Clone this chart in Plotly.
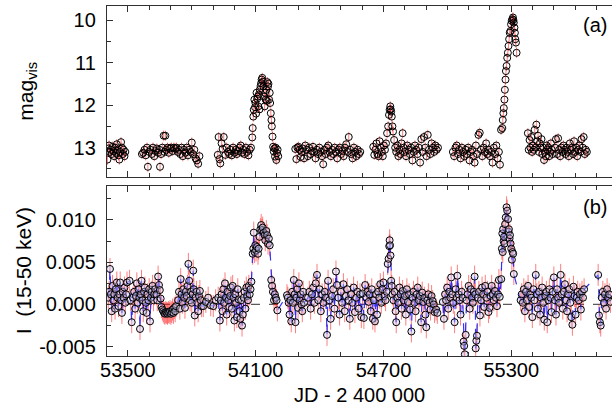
import plotly.graph_objects as go

# ---------------- panel (a): visual magnitudes (JD - 2400000, mag) ----------------
A1_JD = [53404,53408,53412,53416,53420,53424,53428,53432,53436,53440,53444,53448,53452,53456,53460,53464,53468,53472,53476,53480,53484,53488]
A1_MAG = [13.28,13.02,12.95,13.10,13.05,13.15,12.98,13.08,13.20,13.0,13.12,12.92,13.05,13.18,13.28,13.1,12.87,13.0,13.15,13.05,13.2,13.1]

A2_JD = [53566,53572,53578,53584,53590,53594,53600,53606,53612,53618,53624,53630,53636,53642,53648,53651,53656,53662,53668,53672,53676,53680,53686,53692,53698,53704,53710,53716,53722,53728,53734,53740,53746,53752,53758,53764,53770,53776,53782,53788,53794,53800,53806,53812,53818,53824,53830,53836]
A2_MAG = [13.15,13.12,13.05,13.18,13.0,13.45,13.1,13.05,13.15,13.0,13.2,13.08,13.02,13.12,13.05,13.45,13.15,13.0,12.72,13.1,12.72,13.05,13.0,13.12,13.02,13.0,13.08,13.0,13.02,13.0,13.1,13.05,13.15,13.0,13.2,13.05,13.12,13.0,13.18,13.05,13.1,12.88,13.15,13.05,13.25,13.3,13.38,13.2]

A3_JD = [53922,53926,53930,53934,53940,53945,53950,53958,53964,53970,53976,53982,53988,53994,54000,54006,54012,54018,54024,54030,54036,54042,54048,54054,54060,54066,54072,54078]
A3_MAG = [13.17,12.75,13.27,13.37,12.9,13.03,12.75,13.17,13.0,13.1,13.15,13.05,13.18,13.0,13.12,13.05,13.15,13.08,13.0,12.95,13.12,13.05,13.15,13.0,13.1,13.18,13.05,13.0]

A4_JD = [54084,54086,54089,54091,54094,54097,54099,54102,54104,54107,54110,54112,54115,54118,54120,54123,54126,54128,54131,54134,54136,54139,54142,54144,54147,54150,54152,54155,54158,54160,54163,54166,54168,54171,54174,54176,54179,54182,54185,54188,54191,54194,54197,54200,54203,54206]
A4_MAG = [12.76,12.54,12.27,12.11,11.87,12.05,11.95,12.2,11.71,11.85,11.8,12.03,11.75,12.1,11.64,11.55,11.48,11.4,11.36,11.45,11.56,11.8,12.03,11.71,11.87,11.64,11.9,11.46,11.56,11.5,11.87,11.71,11.95,12.19,12.35,12.5,12.74,12.98,13.09,13.02,13.21,13.0,13.29,13.13,13.05,13.2]

A5_JD = [54286,54291,54296,54301,54306,54311,54316,54321,54327,54333,54339,54345,54351,54357,54363,54369,54375,54381,54387,54393,54399,54405,54411,54417,54423,54429,54435,54441,54447,54453,54459,54465,54471,54477,54483,54489,54495,54501,54507,54513,54519,54525,54531,54537,54543,54549,54555,54561,54567,54573,54579,54585,54591]
A5_MAG = [13.03,13.27,13.0,12.98,13.05,13.22,13.1,13.02,13.25,12.95,13.05,13.2,13.0,13.15,13.08,12.98,13.1,13.25,13.05,13.15,13.0,13.1,13.2,13.39,13.05,13.15,13.0,12.95,13.1,13.2,13.05,13.15,13.0,13.1,13.25,13.05,13.0,13.15,13.08,13.2,13.0,12.92,13.1,12.75,13.05,13.15,13.25,13.0,13.1,13.2,13.05,13.15,13.1]

A6_JD = [54652,54657,54662,54667,54672,54677,54682,54687,54692,54697,54702,54707,54712,54717,54722,54726,54729,54732,54734,54736,54739,54742,54745,54750,54755,54760,54765,54770,54775,54780,54785,54790,54795,54800,54806,54812,54818,54824,54830,54836,54842,54848,54854,54860,54866,54872,54878,54884,54890,54896,54902,54908,54914,54920,54926,54932,54938,54944,54950,54956]
A6_MAG = [12.98,13.17,13.05,12.9,13.15,13.2,12.85,13.0,13.1,13.2,12.95,13.05,12.9,12.66,12.5,12.23,12.11,12.03,12.1,12.15,12.27,12.5,12.62,12.82,13.0,13.1,12.95,13.2,13.05,13.15,12.9,12.66,13.0,13.1,13.2,12.95,13.05,13.15,13.0,13.3,13.1,12.95,13.05,13.15,13.0,13.35,12.8,13.1,12.75,13.0,13.2,12.7,13.05,13.15,12.9,13.0,13.1,12.95,13.05,13.0]

A7_JD = [55026,55032,55038,55044,55050,55056,55062,55068,55074,55080,55086,55092,55098,55104,55110,55116,55122,55128,55134,55140,55146,55152,55158,55164,55170,55176,55182,55188,55194,55200,55206,55212,55218,55224,55230,55236,55242,55247]
A7_MAG = [13.1,13.2,13.0,12.95,13.15,13.05,13.25,13.0,13.1,13.2,13.05,13.15,13.0,13.3,13.1,13.05,13.2,13.35,12.95,13.15,12.7,12.65,13.05,13.2,13.0,13.1,12.9,13.15,13.05,13.2,13.1,13.35,13.0,13.15,12.95,13.25,13.1,13.4]

A8_JD = [55252,55258,55260,55263,55265,55268,55270,55273,55275,55278,55281,55284,55287,55290,55293,55296,55299,55302,55305,55308,55310,55312,55315,55317,55319,55322,55325]
A8_MAG = [12.58,12.54,12.35,12.19,12.07,11.87,11.64,11.40,11.20,11.08,10.89,10.77,10.61,10.45,10.30,10.26,10.10,10.02,9.98,9.94,10.0,10.06,10.18,10.30,10.45,10.53,10.77]

A9_JD = [55378,55382,55386,55390,55394,55398,55402,55406,55410,55414,55418,55422,55426,55430,55434,55438,55442,55446,55450,55454,55458,55462,55466,55470,55474,55478,55482,55486,55490,55494]
A9_MAG = [12.66,13.05,12.82,13.0,12.75,13.1,12.95,13.05,12.58,13.0,12.46,12.85,12.72,13.1,12.9,13.0,12.8,13.15,13.0,13.29,13.1,13.2,12.95,13.05,13.0,13.2,13.1,12.9,13.05,13.15]

A10_JD = [55505,55510,55515,55520,55525,55530,55535,55540,55545,55550,55555,55560,55565,55570,55575,55580,55585,55590,55595,55600,55605,55610,55615,55620,55625,55630,55635,55640,55645,55650,55655]
A10_MAG = [13.0,12.8,13.15,12.78,13.05,13.2,13.0,13.1,12.95,13.05,13.15,13.0,13.1,13.2,12.9,13.05,13.0,13.15,12.85,13.1,13.0,13.2,13.05,12.95,13.1,12.8,13.0,12.75,13.15,13.05,13.1]

VIS_ERR = 0.12

# ---------------- panel (b): BAT count rate I (15-50 keV) ----------------
B1_JD = [53408,53412,53416,53420,53424,53428,53432,53436,53440,53444,53448,53452,53456,53460,53464,53468,53472,53476,53480,53484,53488,53492,53496]
B1_I = [0.0008,0.0015,0.0042,0.0012,-0.0008,0.0022,0.0005,0.0012,-0.0005,0.0018,0.0026,0.0008,-0.0002,0.0012,0.0026,0.0005,-0.001,0.0015,0.0008,0.002,0.0002,0.0012,0.0026]

B2_JD = [53508,53512,53518,53524,53530,53534,53538,53542,53546,53550,53554,53557,53560,53564,53568,53572,53576,53580,53584,53588,53592,53596,53600,53604,53608,53612,53616,53620,53624,53628]
B2_I = [0.0028,0.0005,-0.0021,0.0008,0.0015,-0.0005,0.001,0.0025,0.0002,0.0018,0.0008,-0.0029,0.0012,0.0028,0.0005,-0.0008,0.0015,0.002,0.0002,-0.001,0.0012,0.0005,0.0018,-0.002,0.0008,0.0015,0.0022,0.0005,0.0012,0.0018]

B3_JD = [53634,53638,53642,53646,53650,53654,53658,53662,53666,53670,53674,53678,53682,53686,53690,53694,53698,53702,53706,53710,53714,53718,53722,53726]
B3_I = [0.0012,0.0005,0.0033,0.0023,0.0017,0.0007,-0.0003,-0.0006,-0.0008,-0.001,-0.0011,-0.0009,-0.001,-0.0011,-0.0009,-0.001,-0.0008,-0.0011,-0.0009,-0.0006,-0.001,-0.0004,-0.0008,-0.0002]

B4_JD = [53736,53740,53744,53748,53752,53756,53760,53764,53768,53772,53776,53780,53784,53788,53792,53796,53800,53804,53807,53810,53814,53818,53822,53826,53830,53834,53838,53842,53846]
B4_I = [0.0005,0.0015,-0.0005,0.003,0.0012,0.0002,0.0018,0.0008,-0.0004,0.0015,0.001,0.0022,0.0048,0.0028,0.0005,0.0015,0.0002,0.0012,0.004,0.0018,-0.0013,0.0008,0.0015,0.0002,-0.0008,0.001,0.0016,0.0005,-0.0002]

B5_JD = [53854,53866,53877,53889,53901,53912,53924]
B5_I = [-0.0002,0.0003,0.0008,-0.0001,-0.0002,0.0005,0.0008]

B6_JD = [53932,53936,53940,53944,53948,53952,53956,53960,53964,53968,53972,53976,53980,53984,53988,53992,53996,54000,54004,54008,54012,54016,54020,54024,54028,54032,54036,54040,54044,54048,54052,54056,54060,54064,54068,54072,54076,54080]
B6_I = [-0.0019,0.0005,0.0012,-0.0008,0.0018,0.0002,0.0025,0.0008,-0.0012,0.0015,0.0005,-0.0003,0.001,0.002,-0.0005,0.0022,0.0008,-0.0019,0.0012,0.0002,-0.0015,0.0018,0.0006,-0.0008,-0.0017,0.0005,-0.0025,-0.0012,0.0008,0.0015,-0.0005,0.002,0.001,0.0005,0.0022,0.0012,0.0018,0.0027]

B7_JD = [54086,54089,54091,54095,54098,54102,54106,54111,54114,54118,54122,54126,54130,54133,54138,54142,54145,54150,54154,54158,54162,54166,54173,54177,54181,54186,54190,54194,54198,54202]
B7_I = [0.006,0.0066,0.0085,0.0062,0.007,0.0064,0.0068,0.006,0.0066,0.008,0.0089,0.0094,0.0088,0.0091,0.0085,0.0082,0.0076,0.0087,0.0082,0.0072,0.0078,0.007,0.0029,0.0022,0.0015,0.0005,0.0012,0.0008,0.0005,-0.0007]

B8_JD = [54247,54251,54255,54259,54263,54267,54271,54275,54279,54283,54287,54291,54295,54299,54303,54307,54311,54315,54319,54323,54327]
B8_I = [0.0011,0.0008,0.0002,-0.0012,0.0005,-0.002,0.0015,0.0002,0.0029,0.0012,-0.0021,0.0008,0.0018,-0.0004,0.0025,0.0005,0.0012,0.0,-0.0008,0.0015,0.0002]

B9_JD = [54346,54352,54358,54364,54370,54376,54382,54388,54394,54400,54406,54412,54418,54424,54430,54435,54440,54446,54452,54458,54464,54470,54477,54482,54488,54494,54500,54506,54512,54518,54524,54530,54536,54542,54548,54554,54560,54566,54572,54578,54584,54590,54596,54602,54608,54614]
B9_I = [0.0008,0.0015,-0.0005,0.0012,0.002,0.0002,0.0025,0.0035,0.0005,0.0018,-0.0008,0.0012,0.0002,0.0015,0.0008,-0.0036,0.0028,0.0005,-0.0017,0.001,0.0018,-0.0005,0.0039,0.0023,0.0008,-0.0012,0.0015,0.0002,0.0024,-0.0008,0.001,0.0018,0.0005,-0.0017,0.0012,0.0002,0.002,-0.0009,0.0008,0.0015,-0.0005,0.0012,-0.0015,0.0013,-0.0016,0.0023]

B10_JD = [54620,54625,54630,54635,54640,54645,54650,54655,54660,54665,54670,54675,54680,54685,54690,54695,54700,54705,54710,54715,54720,54724,54727,54729,54731,54733,54736,54739]
B10_I = [0.0008,0.0015,0.0003,0.0012,-0.0008,0.0018,-0.0017,0.0005,-0.002,0.0012,-0.0012,0.0015,0.0008,0.0024,0.0002,0.0018,0.0026,0.001,0.0005,0.0015,0.0048,0.0054,0.0069,0.0076,0.007,0.0058,0.0028,0.0022]

B11_JD = [54742,54747,54752,54757,54760,54765,54770,54775,54780,54785,54790,54795,54800,54805,54810,54815,54820,54825,54831,54836,54841,54846,54851,54856,54861,54866,54871,54877,54882,54887,54892,54897,54901,54906,54911,54916,54921,54926,54931,54936,54940,54947,54953]
B11_I = [0.0012,0.0005,0.0015,-0.0008,-0.0021,0.0008,0.0002,0.002,0.0012,-0.0005,0.0016,0.0005,0.001,-0.0012,0.0018,0.0003,0.0012,-0.0006,-0.0032,0.0008,0.0015,0.0002,-0.0008,0.0012,0.002,0.0005,0.001,-0.0021,0.0014,0.0003,0.0008,-0.0012,-0.0027,0.0005,0.0012,0.0002,-0.0006,0.001,0.0004,0.0,-0.0009,-0.0006,-0.001]

B12_JD = [54979,54984,54989,54994,54999,55004,55009,55014,55018,55023,55028,55034,55039,55043,55047,55052,55057,55062,55067,55072,55076,55079,55082,55086,55090,55095,55100,55105,55110,55115,55120,55124,55128,55131,55133,55136,55139,55143,55148,55153,55158,55163,55168,55173,55178,55183,55188,55193,55198,55203,55208,55213,55218,55223,55228,55233,55238,55242,55246]
B12_I = [0.0003,-0.0017,0.0012,0.0005,0.002,-0.0005,0.0015,0.0008,0.0032,0.0012,0.0002,-0.0021,0.0018,0.0008,0.0034,0.0012,0.0005,-0.0012,0.0015,0.0008,-0.0044,-0.0049,-0.0059,-0.0036,0.0005,0.0012,0.0022,-0.0005,0.0018,0.0008,0.0002,0.0015,0.0033,0.0012,-0.0052,-0.0043,-0.0037,0.0008,0.0015,-0.0013,0.0005,0.002,0.0012,-0.0003,0.0022,0.0008,0.0015,-0.0009,-0.0004,0.001,0.0022,0.0012,0.0005,0.0016,0.0008,-0.0002,0.0012,0.0029,0.0009]

B13_JD = [55253,55256,55258,55260,55262,55264,55266,55268,55271,55274,55278,55281,55285,55287,55289,55292,55294,55297,55300,55303,55306,55309,55312]
B13_I = [0.003,0.0066,0.0084,0.0062,0.0089,0.0075,0.008,0.0072,0.0095,0.0103,0.0115,0.0111,0.0101,0.0086,0.0089,0.0078,0.0082,0.0072,0.0066,0.0053,0.0062,0.006,0.0036]

B14_JD = [55344,55349,55354,55359,55364,55369,55374,55379,55384,55389,55394,55399,55404,55409,55415,55420,55425,55430,55435,55440,55445,55450,55455,55460,55465,55469,55474,55479,55484,55489,55494,55500,55505,55510,55515,55520,55525,55532,55537,55542,55547,55552,55557,55562,55567,55572,55577,55582,55587,55592,55597,55602,55607,55612,55617,55622,55627,55632,55637,55642]
B14_I = [0.0005,0.0012,0.0002,0.0018,-0.0008,0.0015,0.0005,0.0022,-0.0003,0.0012,0.0008,-0.0015,0.0018,0.0005,0.0035,0.0012,-0.0005,0.0015,-0.0012,0.0008,0.002,0.0002,-0.0018,0.001,0.0015,-0.0021,0.0005,0.0018,0.0008,-0.0009,0.0015,0.0032,0.0005,-0.0012,0.0018,0.0008,0.0002,0.0035,0.0012,-0.0005,0.0015,0.0024,0.0005,-0.0008,0.0012,0.0018,0.0002,-0.0015,-0.0024,0.0021,0.001,-0.0012,0.0008,0.0015,0.0005,0.0012,-0.0006,0.0015,0.0008,0.0018]

B15_JD = [55708,55712,55716,55720,55725,55730,55735,55740,55745,55750,55755,55760,55766]
B15_I = [0.0035,-0.0013,-0.0021,-0.0025,0.0008,0.0015,0.0002,0.0012,-0.0005,0.0018,0.0008,0.0012,0.0003]

BAT_ERR = 0.0013

# ---------------- axis settings (tick labels) ----------------
X_TICKS = [53500, 54100, 54700, 55300]
X_TICK_LABELS = ["53500", "54100", "54700", "55300"]
MAG_TICKS = [10, 11, 12, 13]
MAG_TICK_LABELS = ["10", "11", "12", "13"]
I_TICKS = [-0.005, 0.0, 0.005, 0.010]
I_TICK_LABELS = ["-0.005", "0.000", "0.005", "0.010"]
X_RANGE = [53402, 55773]
MAG_RANGE = [13.69, 9.67]
I_RANGE = [-0.0061, 0.01402]

vis_segments = [(A1_JD, A1_MAG), (A2_JD, A2_MAG), (A3_JD, A3_MAG), (A4_JD, A4_MAG), (A5_JD, A5_MAG),
                (A6_JD, A6_MAG), (A7_JD, A7_MAG), (A8_JD, A8_MAG), (A9_JD, A9_MAG), (A10_JD, A10_MAG)]
bat_segments = [(B1_JD, B1_I), (B2_JD, B2_I), (B3_JD, B3_I), (B4_JD, B4_I), (B5_JD, B5_I),
                (B6_JD, B6_I), (B7_JD, B7_I), (B8_JD, B8_I), (B9_JD, B9_I), (B10_JD, B10_I),
                (B11_JD, B11_I), (B12_JD, B12_I), (B13_JD, B13_I), (B14_JD, B14_I), (B15_JD, B15_I)]
for xs, ys in vis_segments + bat_segments:
    assert len(xs) == len(ys), (len(xs), len(ys))

vis_jd = [v for xs, _ in vis_segments for v in xs]
vis_mag = [v for _, ys in vis_segments for v in ys]
bat_jd = [v for xs, _ in bat_segments for v in xs]
bat_i = [v for _, ys in bat_segments for v in ys]

FONT = "Liberation Sans, Arial, sans-serif"
AXCOL = "#303030"
ERRCOL = "rgba(255,20,20,0.55)"

fig = go.Figure()

fig.add_trace(go.Scatter(
    x=vis_jd, y=vis_mag, xaxis="x2", yaxis="y2", mode="markers",
    marker=dict(symbol="circle-open", size=7, color="black", line=dict(width=1)),
    error_y=dict(type="constant", value=VIS_ERR, color=ERRCOL, thickness=1, width=0),
    showlegend=False, hoverinfo="x+y",
))

fig.add_trace(go.Scatter(
    x=bat_jd, y=bat_i, xaxis="x", yaxis="y", mode="lines+markers",
    line=dict(color="rgba(30,30,255,0.9)", width=1.2, dash="dash"),
    marker=dict(symbol="circle", size=7, color="rgba(200,200,245,0.4)",
                line=dict(color="black", width=1)),
    error_y=dict(type="constant", value=BAT_ERR, color=ERRCOL, thickness=1, width=0),
    showlegend=False, hoverinfo="x+y",
))

tickfont = dict(family=FONT, size=20, color="black")
common_x = dict(range=X_RANGE, showline=True, linecolor=AXCOL, linewidth=1.3, mirror="ticks",
                ticks="inside", ticklen=6, tickcolor=AXCOL, tickmode="array", tickvals=X_TICKS,
                ticktext=X_TICK_LABELS, showgrid=False, zeroline=False, automargin=False,
                minor=dict(ticks="inside", ticklen=4, tickcolor=AXCOL, dtick=100, tick0=53500,
                           showgrid=False))
common_y = dict(showline=True, linecolor=AXCOL, linewidth=1.3, ticks="inside", ticklen=6,
                tickcolor=AXCOL, tickmode="array", tickfont=tickfont, showgrid=False,
                zeroline=False, ticklabelstandoff=6, automargin=False)

fig.update_layout(
    width=612, height=406,
    margin=dict(l=107, r=0, t=6, b=50, autoexpand=False),
    paper_bgcolor="white", plot_bgcolor="white",
    font=dict(family=FONT, color="black"),
    xaxis=dict(**common_x, anchor="y", domain=[0, 1], tickfont=tickfont, ticklabelstandoff=-4),
    xaxis2=dict(**common_x, anchor="y2", domain=[0, 1], matches="x", showticklabels=False),
    yaxis=dict(**common_y, domain=[0, 0.4857], range=I_RANGE, tickvals=I_TICKS,
               ticktext=I_TICK_LABELS,
               minor=dict(ticks="inside", ticklen=4, tickcolor=AXCOL, dtick=0.0025, tick0=0,
                          showgrid=False)),
    yaxis2=dict(**common_y, domain=[0.5114, 1], range=MAG_RANGE, tickvals=MAG_TICKS,
                ticktext=MAG_TICK_LABELS,
                minor=dict(ticks="inside", ticklen=4, tickcolor=AXCOL, dtick=0.5, tick0=10,
                           showgrid=False)),
    shapes=[dict(type="line", xref="paper", x0=0, x1=1, yref="y", y0=0, y1=0,
                 line=dict(color="rgb(90,90,90)", width=1.2, dash="dash"), layer="below")],
    annotations=[
        dict(text="mag<sub>vis</sub>", xref="paper", yref="paper", x=-0.160, y=0.7557,
             textangle=-90, showarrow=False, font=dict(family=FONT, size=21),
             xanchor="center", yanchor="middle"),
        dict(text="I  (15-50 keV)", xref="paper", yref="paper", x=-0.164, y=0.2429,
             textangle=-90, showarrow=False, font=dict(family=FONT, size=21),
             xanchor="center", yanchor="middle"),
        dict(text="JD - 2 400 000", xref="paper", yref="paper", x=0.5, y=-0.111,
             showarrow=False, font=dict(family=FONT, size=20),
             xanchor="center", yanchor="middle"),
        dict(text="(a)", xref="paper", yref="paper", x=0.966, y=0.946,
             showarrow=False, font=dict(family=FONT, size=20),
             xanchor="center", yanchor="middle"),
        dict(text="(b)", xref="paper", yref="paper", x=0.966, y=0.426,
             showarrow=False, font=dict(family=FONT, size=20),
             xanchor="center", yanchor="middle"),
    ],
)

fig.write_html("out.html", config={"displayModeBar": False},
               post_script="document.body.style.margin='0';document.body.style.overflow='hidden';")
